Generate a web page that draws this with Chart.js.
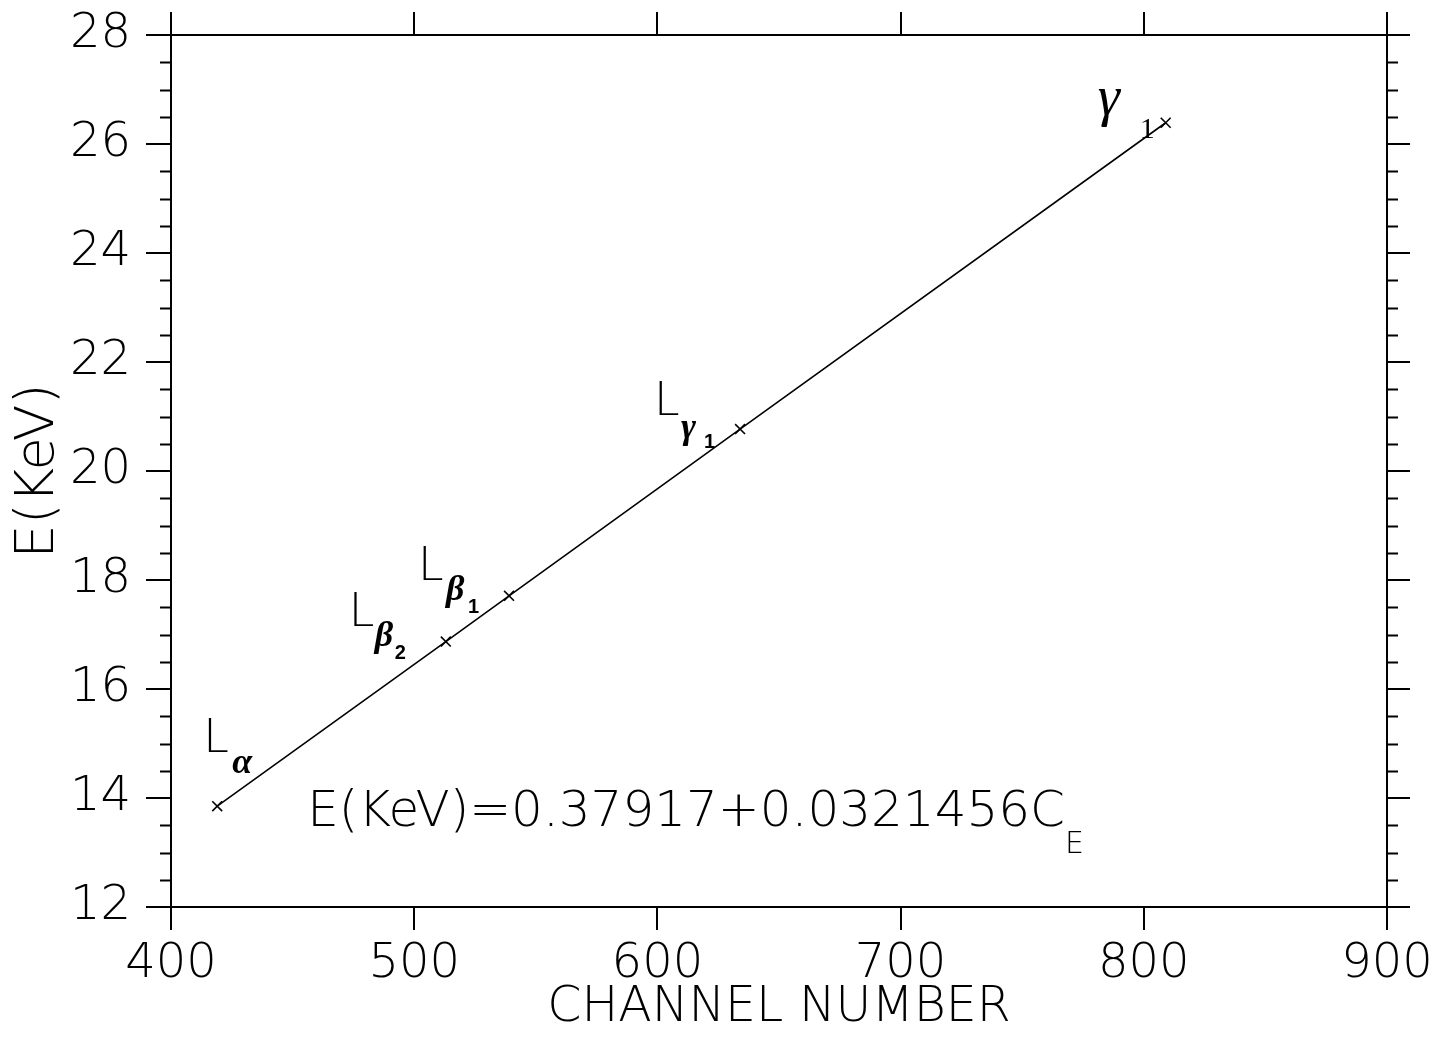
<!DOCTYPE html>
<html>
<head>
<meta charset="utf-8">
<script src="https://cdn.jsdelivr.net/npm/chart.js@4.4.1/dist/chart.umd.min.js"></script>
<style>
  html, body { margin: 0; padding: 0; background: #fff; }
  #wrap { width: 1434px; height: 1037px; }
</style>
</head>
<body>
<div id="wrap"><canvas id="calib" width="1434" height="1037"></canvas></div>
<script>
//measured lines: channel number and energy
const channels = [419, 513, 539, 634, 809];
const energies = [13.85, 16.87, 17.71, 20.77, 26.39];
//line names shown next to each point
const mainLetters = ["L", "L", "L", "L", ""];
const greekLetters = ["α", "β", "β", "γ", "γ"];
const subIndex = ["", "2", "1", "1", "1"];
//axis ranges and tick steps
const xRange = [400, 900];
const xStep = 100;
const yRange = [12, 28];
const yStep = 2;
const yMinorStep = 0.5;
//fit result written on the chart
const fitText = "E(KeV)=0.37917+0.0321456C";
const fitSub = "E";
const fitAt = [456, 13.48];

const thin = '"DejaVu Sans ExtraLight", "DejaVu Sans", sans-serif';
const serif = '"Liberation Serif", "DejaVu Serif", serif';
const sans = '"Liberation Sans", Arial, sans-serif';

//pixel offsets of the label pieces from their point: [L dx, L dy, greek dx, greek dy, sub dx, sub dy]
const labelOffsets = [
  [-14, -54, 15, -33, 0, 0],
  [-97, -16, -71, 4, -51, 17],
  [-91, -16, -63, 4, -41, 17],
  [-86, -14, -59, 9, -36, 19],
  [0, 0, -68, -8, -26, 15],
];

//minor ticks on both y sides + text labels
const extrasPlugin = {
  id: "extras",
  afterDraw(chart) {
    const ctx = chart.ctx;
    const y = chart.scales.y;
    const x = chart.scales.x;
    const area = chart.chartArea;
    ctx.save();
    ctx.strokeStyle = "#000";
    ctx.lineWidth = 2;
    for (let v = yRange[0]; v <= yRange[1]; v += yMinorStep) {
      if (v % yStep === 0) continue;
      const py = Math.round(y.getPixelForValue(v)) + 0.5;
      ctx.beginPath();
      ctx.moveTo(area.left - 11, py);
      ctx.lineTo(area.left, py);
      ctx.moveTo(area.right, py);
      ctx.lineTo(area.right + 11, py);
      ctx.stroke();
    }

    ctx.fillStyle = "#000";
    ctx.textBaseline = "alphabetic";
    ctx.textAlign = "left";
    channels.forEach((c, i) => {
      const px = x.getPixelForValue(c);
      const py = y.getPixelForValue(energies[i]);
      const o = labelOffsets[i];
      if (mainLetters[i]) {
        ctx.font = "200 46px " + thin;
        ctx.fillText(mainLetters[i], px + o[0], py + o[1]);
      }
      const big = i === 4;
      ctx.font = (big ? "italic 56px " : "italic bold 36px ") + serif;
      ctx.fillText(greekLetters[i], px + o[2], py + o[3]);
      if (subIndex[i]) {
        ctx.font = big ? "30px " + serif : "bold 20px " + sans;
        ctx.fillText(subIndex[i], px + o[4], py + o[5]);
      }
    });

    //fit equation
    const ex = x.getPixelForValue(fitAt[0]);
    const ey = y.getPixelForValue(fitAt[1]);
    ctx.font = "200 50px " + thin;
    ctx.fillText(fitText, ex, ey);
    const w = ctx.measureText(fitText).width;
    ctx.font = "200 30px " + thin;
    ctx.fillText(fitSub, ex + w, ey + 27);
    ctx.restore();
  },
};

const axisFont = { family: thin, size: 48, weight: 200 };
const gridStyle = { drawOnChartArea: false, color: "#000", lineWidth: 2, tickLength: 23 };
const borderStyle = { display: true, color: "#000", width: 2 };

//fixed box sizes so the plot frame lands where it is in the figure
const fixSize = (h, w) => (s) => {
  if (h !== null) s.height = h;
  if (w !== null) s.width = w;
  s.paddingLeft = 0;
  s.paddingRight = 0;
  s.paddingTop = 0;
  s.paddingBottom = 0;
};

let myChart = new Chart(document.getElementById("calib"), {
  type: "line",
  plugins: [extrasPlugin],
  data: {
    datasets: [
      {
        data: channels.map((c, i) => ({ x: c, y: energies[i] })),
        borderColor: "#000",
        borderWidth: 1.6,
        pointStyle: "crossRot",
        pointRadius: 7,
        pointBorderWidth: 1.6,
        pointBorderColor: "#000",
        tension: 0,
        fill: false,
      },
    ],
  },
  options: {
    responsive: false,
    animation: false,
    layout: { padding: 0 },
    plugins: { legend: { display: false }, tooltip: { enabled: false } },
    scales: {
      x: {
        type: "linear",
        position: "bottom",
        min: xRange[0],
        max: xRange[1],
        ticks: { stepSize: xStep, color: "#000", font: axisFont, padding: 6, maxRotation: 0 },
        grid: gridStyle,
        border: borderStyle,
        title: { display: true, text: "CHANNEL NUMBER", color: "#000", font: { family: thin, size: 49, weight: 200, lineHeight: 1 }, padding: { top: 0, bottom: 4 } },
        afterFit: fixSize(130, null),
      },
      x2: {
        type: "linear",
        position: "top",
        min: xRange[0],
        max: xRange[1],
        ticks: { stepSize: xStep, display: false },
        grid: gridStyle,
        border: borderStyle,
        afterFit: fixSize(35, null),
      },
      y: {
        type: "linear",
        position: "left",
        min: yRange[0],
        max: yRange[1],
        ticks: { stepSize: yStep, color: "#000", font: axisFont, padding: 15 },
        grid: { ...gridStyle, tickLength: 25 },
        border: borderStyle,
        title: { display: true, text: "E(KeV)", color: "#000", font: { family: thin, size: 54, weight: 200, lineHeight: 1 }, padding: { top: 12, bottom: 0 } },
        afterFit: fixSize(null, 171),
      },
      y2: {
        type: "linear",
        position: "right",
        min: yRange[0],
        max: yRange[1],
        ticks: { stepSize: yStep, display: false },
        grid: gridStyle,
        border: borderStyle,
        afterFit: fixSize(null, 47),
      },
    },
  },
});
</script>
</body>
</html>
